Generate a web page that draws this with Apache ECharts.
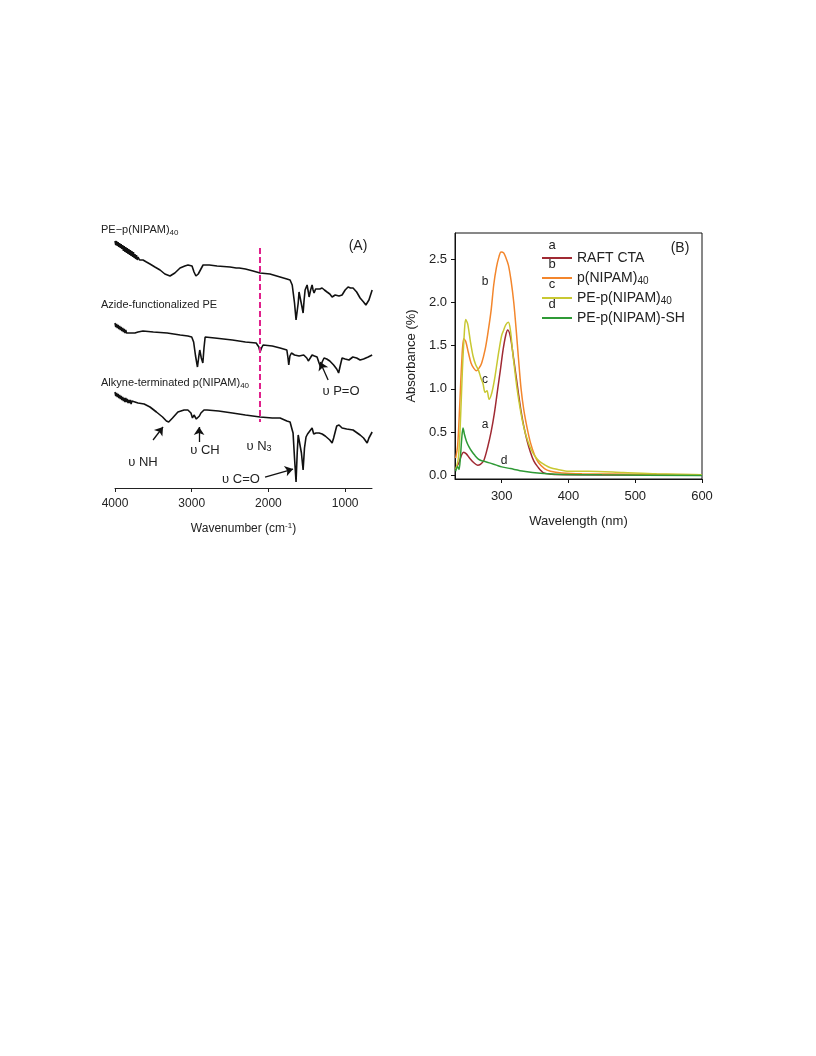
<!DOCTYPE html>
<html>
<head>
<meta charset="utf-8">
<script src="https://cdn.jsdelivr.net/npm/echarts@6/dist/echarts.min.js"></script>
<style>
html,body{margin:0;padding:0;background:#fff;}
#chart{width:816px;height:1056px;}
</style>
</head>
<body>
<div id="chart"></div>
<script>
// ---------- Panel A: FTIR (wavenumber cm-1, relative transmittance a.u., offset-stacked) ----------
const ftirTicks = [4000, 3000, 2000, 1000];
const ftirPEpNIPAM = [
  [4000,247],[3990,243],[3980,247],[3970,242],[3960,246],[3950,241],[3940,245],[3930,240],[3920,244],
  [3910,239],[3900,243],[3890,237],[3880,242],[3870,236],[3860,241],[3850,235],[3840,240],[3830,234],
  [3820,239],[3810,233],[3800,238],[3790,232],[3780,237],[3770,231],[3760,236],[3750,230],[3740,234],
  [3730,229],[3720,233],[3710,228],[3700,231],[3680,228],[3660,230],[3635,228],[3590,226],[3544,224],
  [3480,221],[3413,218],[3350,214],[3283,212],[3220,215],[3152,220],[3090,222],[3048,223],[2996,222],
  [2970,216],[2945,212],[2930,210],[2915,214],[2904,216],[2880,219],[2852,223],[2770,223],[2670,222],
  [2500,221],[2420,220],[2400,218],[2380,220],[2300,219],[2200,217],[2109,215],[1980,214],
  [1848,211],[1760,209],[1718,208],[1690,203],[1679,201],[1660,185],[1640,168],[1627,166],[1612,185],
  [1601,196],[1585,194],[1565,182],[1548,175],[1535,188],[1522,198],[1496,203],[1480,196],[1470,191],
  [1450,198],[1431,203],[1418,198],[1405,195],[1385,199],[1366,201],[1330,199],[1301,200],[1270,198],
  [1236,196],[1200,194],[1170,191],[1130,193],[1080,192],[1040,193],[1000,198],[962,201],[930,200],
  [897,200],[850,196],[805,190],[760,186],[730,183],[713,182],[690,188],[648,198]
];
const ftirAzidePE = [
  [4000,165],[3990,161],[3980,164],[3970,160],[3960,163],[3950,159],[3940,162],[3930,158],[3920,161],
  [3910,157],[3900,160],[3890,156],[3880,159],[3870,155],[3860,158],[3850,155],[3840,157],[3820,155],
  [3800,157],[3780,155],[3760,156],[3740,155],[3700,156],[3635,157],[3500,156],[3320,155],[3150,153],
  [3050,152],[3000,151],[2975,146],[2950,132],[2925,121],[2905,133],[2895,138],[2875,130],[2855,125],
  [2840,140],[2825,151],[2700,150],[2470,148],[2300,146],[2160,145],[2125,141],[2109,136],[2090,140],
  [2070,143],[1950,142],
  [1848,140],[1760,138],[1745,130],[1735,123],[1720,132],[1700,135],[1660,133],[1600,132],[1540,133],
  [1500,130],[1480,127],[1470,125],[1455,130],[1431,133],[1400,132],[1366,131],[1340,125],[1320,121],
  [1300,126],[1275,130],[1240,129],[1200,127],[1150,123],[1110,119],[1085,115],[1065,122],[1040,130],
  [1000,129],[950,128],[900,131],[850,130],[805,128],[760,129],[700,131],[648,133]
];
const ftirAlkynePNIPAM = [
  [4000,96],[3990,92],[3980,95],[3970,91],[3960,94],[3950,90],[3940,93],[3930,89],[3920,92],[3910,88],
  [3900,91],[3890,87],[3880,90],[3870,86],[3860,90],[3850,86],[3840,89],[3830,85],[3820,88],[3810,85],
  [3800,88],[3790,84],[3780,87],[3760,85],[3740,86],[3700,85],[3620,84],[3544,81],[3460,76],[3380,71],
  [3330,67],[3300,66],[3250,70],[3180,76],[3100,78],[3050,78],[3010,75],[2990,70],[2970,73],[2960,72],
  [2940,69],[2920,68],[2900,72],[2880,75],[2840,78],[2800,78],[2650,77],[2470,75],[2300,73],[2109,71],
  [1950,70],
  [1848,70],[1760,67],[1718,66],[1690,58],[1679,55],[1660,30],[1640,6],[1625,35],[1612,53],[1590,51],
  [1570,35],[1548,18],[1530,40],[1510,51],[1490,54],[1470,56],[1431,60],[1410,54],[1380,55],[1340,55],
  [1300,54],[1260,52],[1200,48],[1170,45],[1150,50],[1110,62],[1080,63],[1040,60],[980,59],[897,58],
  [805,53],[760,50],[713,45],[690,50],[648,56]
];
const ftirN3Marker = [[2110,240],[2110,66]];

// ---------- Panel B: UV-vis ----------
const uvTicksX = [300, 400, 500, 600];
const uvTicksY = [0, 0.5, 1.0, 1.5, 2.0, 2.5];
const uvSeriesNames = ['RAFT CTA', 'p(NIPAM)40', 'PE-p(NIPAM)40', 'PE-p(NIPAM)-SH'];
const uvLetters = ['a', 'b', 'c', 'd'];
const uvRAFT = [
  [231,0.08],[236,0.15],[240,0.24],[243,0.27],[247,0.25],[252,0.2],[258,0.15],[264,0.12],[268,0.13],
  [273,0.17],[279,0.33],[284,0.5],[289,0.72],[294,1.0],[298,1.22],[302,1.45],[306,1.62],[309,1.68],
  [313,1.6],[318,1.34],[322,1.12],[325,0.95],[329,0.74],[333,0.57],[338,0.4],[343,0.27],[348,0.17],
  [354,0.1],[363,0.03],[375,0.015],[400,0.01],[500,0.005],[600,0.005]
];
const uvPNIPAM = [
  [231,0.2],[234,0.35],[237,0.8],[240,1.3],[243,1.58],[246,1.55],[250,1.42],[254,1.3],[258,1.24],
  [262,1.21],[266,1.24],[270,1.3],[275,1.45],[279,1.63],[284,1.9],[288,2.2],[292,2.4],[296,2.53],
  [299,2.58],[303,2.57],[306,2.52],[310,2.43],[314,2.25],[318,2.0],[322,1.65],[325,1.36],[329,1.0],
  [333,0.76],[338,0.55],[343,0.38],[349,0.24],[355,0.15],[364,0.08],[373,0.05],[390,0.03],[420,0.02],
  [500,0.015],[600,0.01]
];
const uvPEpNIPAM = [
  [231,0.07],[235,0.2],[238,0.6],[241,1.2],[244,1.65],[246,1.8],[249,1.75],[253,1.55],[257,1.38],
  [261,1.28],[265,1.22],[269,1.12],[272,1.06],[275,0.96],[278,0.98],[281,0.88],[285,0.95],[289,1.1],
  [292,1.25],[296,1.45],[300,1.62],[303,1.68],[306,1.74],[310,1.77],[313,1.68],[316,1.45],[319,1.25],
  [323,1.0],[327,0.8],[331,0.63],[335,0.5],[339,0.4],[344,0.3],[350,0.22],[357,0.16],[363,0.13],
  [373,0.09],[384,0.07],[400,0.05],[430,0.05],[482,0.035],[532,0.02],[600,0.01]
];
const uvPEpNIPAMSH = [
  [231,0.05],[234,0.1],[236,0.07],[238,0.2],[240,0.42],[242,0.55],[244,0.48],[247,0.4],[251,0.33],
  [255,0.28],[260,0.23],[265,0.19],[270,0.17],[276,0.16],[284,0.14],[292,0.12],[300,0.1],[313,0.08],
  [333,0.05],[358,0.025],[380,0.015],[450,0.008],[600,0.0]
];
const uvColors = ['#a02a33', '#f3862c', '#c8c832', '#2f9a36'];

const FONT = '"Liberation Sans", Arial, sans-serif';
const TXT = '#222';

const chart = echarts.init(document.getElementById('chart'), null, {renderer: 'canvas'});

function arrowLine(from, to) {
  return [{coord: from}, {coord: to}];
}

function gText(x, y, text, size, align, rich) {
  return {
    type: 'text', x: x, y: y,
    style: {text: text, fill: TXT, font: size + 'px ' + FONT, align: align || 'left', verticalAlign: 'middle',
      rich: rich || {}}
  };
}
const subRich = (size) => ({
  n: {fontSize: size, fontFamily: FONT, fill: TXT, color: TXT},
  s: {fontSize: Math.round(size * 0.7), fontFamily: FONT, fill: TXT, color: TXT, verticalAlign: 'bottom', padding: [Math.round(size*0.45), 0, 0, 0]}
});

const option = {
  backgroundColor: '#fff',
  animation: false,
  textStyle: {fontFamily: FONT},
  grid: [
    {left: 115, right: 444, top: 230, bottom: 568, show: false},
    {left: 455, right: 114, top: 233, bottom: 577, show: true, borderColor: '#111', borderWidth: 1}
  ],
  xAxis: [
    {
      gridIndex: 0, type: 'value', min: 650, max: 4000, inverse: true,
      name: '{n|Wavenumber (cm}{p|-1}{n|)}', nameLocation: 'middle', nameGap: 34,
      nameTextStyle: {rich: {n: {fontSize: 12, fontFamily: FONT, color: TXT}, p: {fontSize: 8, fontFamily: FONT, color: TXT, verticalAlign: 'top', padding: [0,0,6,0]}}},
      axisLine: {show: true, onZero: false, lineStyle: {color: '#222', width: 1}},
      axisTick: {show: true, length: 4, customValues: ftirTicks, lineStyle: {color: '#222'}},
      axisLabel: {customValues: ftirTicks, fontSize: 12, color: TXT, margin: 10, fontFamily: FONT,
        formatter: v => String(Math.round(v))},
      splitLine: {show: false}
    },
    {
      gridIndex: 1, type: 'value', min: 230, max: 600,
      name: 'Wavelength (nm)', nameLocation: 'middle', nameGap: 36,
      nameTextStyle: {fontSize: 13, color: TXT, fontFamily: FONT},
      axisLine: {show: true, onZero: false, lineStyle: {color: '#111'}},
      axisTick: {show: true, length: 4, customValues: uvTicksX, lineStyle: {color: '#111'}},
      axisLabel: {customValues: uvTicksX, fontSize: 13, color: TXT, margin: 11, fontFamily: FONT,
        formatter: v => String(Math.round(v))},
      splitLine: {show: false}
    }
  ],
  yAxis: [
    {gridIndex: 0, type: 'value', min: 0, max: 258, show: false},
    {
      gridIndex: 1, type: 'value', min: -0.04, max: 2.8,
      name: 'Absorbance (%)', nameLocation: 'middle', nameGap: 37,
      nameTextStyle: {fontSize: 13, color: TXT, fontFamily: FONT},
      axisLine: {show: true, onZero: false, lineStyle: {color: '#111'}},
      axisTick: {show: true, length: 4, customValues: uvTicksY, lineStyle: {color: '#111'}},
      axisLabel: {customValues: uvTicksY, fontSize: 13, color: TXT, margin: 8, fontFamily: FONT,
        formatter: v => Number(v).toFixed(1)},
      splitLine: {show: false}
    }
  ],
  legend: {
    orient: 'vertical', left: 537, top: 245, itemWidth: 30, itemHeight: 2, itemGap: 4,
    icon: 'rect',
    data: uvSeriesNames,
    textStyle: {fontSize: 14, color: TXT, fontFamily: FONT, lineHeight: 16,
      rich: {n: {fontSize: 14, fontFamily: FONT, color: TXT}, s: {fontSize: 10, fontFamily: FONT, color: TXT, verticalAlign: 'bottom', padding: [6,0,0,0]}}},
    formatter: name => name.endsWith('40') ? '{n|' + name.slice(0, -2) + '}{s|40}' : '{n|' + name + '}',
    itemStyle: {borderWidth: 0}
  },
  series: [
    {type: 'line', xAxisIndex: 0, yAxisIndex: 0, data: ftirPEpNIPAM, showSymbol: false, silent: true,
      lineStyle: {color: '#111', width: 1.6}},
    {type: 'line', xAxisIndex: 0, yAxisIndex: 0, data: ftirAzidePE, showSymbol: false, silent: true,
      lineStyle: {color: '#111', width: 1.6},
      markLine: {silent: true, symbol: ['none', 'arrow'], symbolSize: 8, label: {show: false},
        lineStyle: {color: '#111', width: 1.3, type: 'solid'},
        data: [arrowLine([1222,108],[1326,126])]}},
    {type: 'line', xAxisIndex: 0, yAxisIndex: 0, data: ftirAlkynePNIPAM, showSymbol: false, silent: true,
      lineStyle: {color: '#111', width: 1.6},
      markLine: {silent: true, symbol: ['none', 'arrow'], symbolSize: 8, label: {show: false},
        lineStyle: {color: '#111', width: 1.3, type: 'solid'},
        data: [arrowLine([3504,48],[3374,61]), arrowLine([2904,46],[2904,61]), arrowLine([2044,11],[1679,19])]}},
    {type: 'line', xAxisIndex: 0, yAxisIndex: 0, data: ftirN3Marker, showSymbol: false, silent: true,
      lineStyle: {color: '#e0208c', width: 2, type: [6, 3]}},
    {name: uvSeriesNames[0], type: 'line', xAxisIndex: 1, yAxisIndex: 1, data: uvRAFT, showSymbol: false, smooth: 0.3,
      lineStyle: {color: uvColors[0], width: 1.5}, itemStyle: {color: uvColors[0]}},
    {name: uvSeriesNames[1], type: 'line', xAxisIndex: 1, yAxisIndex: 1, data: uvPNIPAM, showSymbol: false, smooth: 0.3,
      lineStyle: {color: uvColors[1], width: 1.5}, itemStyle: {color: uvColors[1]}},
    {name: uvSeriesNames[2], type: 'line', xAxisIndex: 1, yAxisIndex: 1, data: uvPEpNIPAM, showSymbol: false, smooth: 0.3,
      lineStyle: {color: uvColors[2], width: 1.5}, itemStyle: {color: uvColors[2]}},
    {name: uvSeriesNames[3], type: 'line', xAxisIndex: 1, yAxisIndex: 1, data: uvPEpNIPAMSH, showSymbol: false, smooth: 0.3,
      lineStyle: {color: uvColors[3], width: 1.5}, itemStyle: {color: uvColors[3]}}
  ],
  graphic: [
    gText(101, 230, '{n|PE−p(NIPAM)}{s|40}', 11, 'left', subRich(11)),
    gText(101, 305, 'Azide-functionalized PE', 11),
    gText(101, 383, '{n|Alkyne-terminated p(NIPAM)}{s|40}', 11, 'left', subRich(11)),
    gText(358, 246, '(A)', 14, 'center'),
    gText(143, 462, 'υ NH', 13, 'center'),
    gText(205, 450, 'υ CH', 13, 'center'),
    gText(259, 446, '{n|υ N}{s|3}', 13, 'center', subRich(13)),
    gText(241, 479, 'υ C=O', 13, 'center'),
    gText(341, 391, 'υ P=O', 13, 'center'),
    gText(680, 248, '(B)', 14, 'center'),
    gText(552, 245, uvLetters[0], 13, 'center'),
    gText(552, 264, uvLetters[1], 13, 'center'),
    gText(552, 284, uvLetters[2], 13, 'center'),
    gText(552, 304, uvLetters[3], 13, 'center'),
    gText(485, 282, uvLetters[1], 12, 'center'),
    gText(485, 380, uvLetters[2], 12, 'center'),
    gText(485, 425, uvLetters[0], 12, 'center'),
    gText(504, 461, uvLetters[3], 12, 'center')
  ]
};
chart.setOption(option);
</script>
</body>
</html>
